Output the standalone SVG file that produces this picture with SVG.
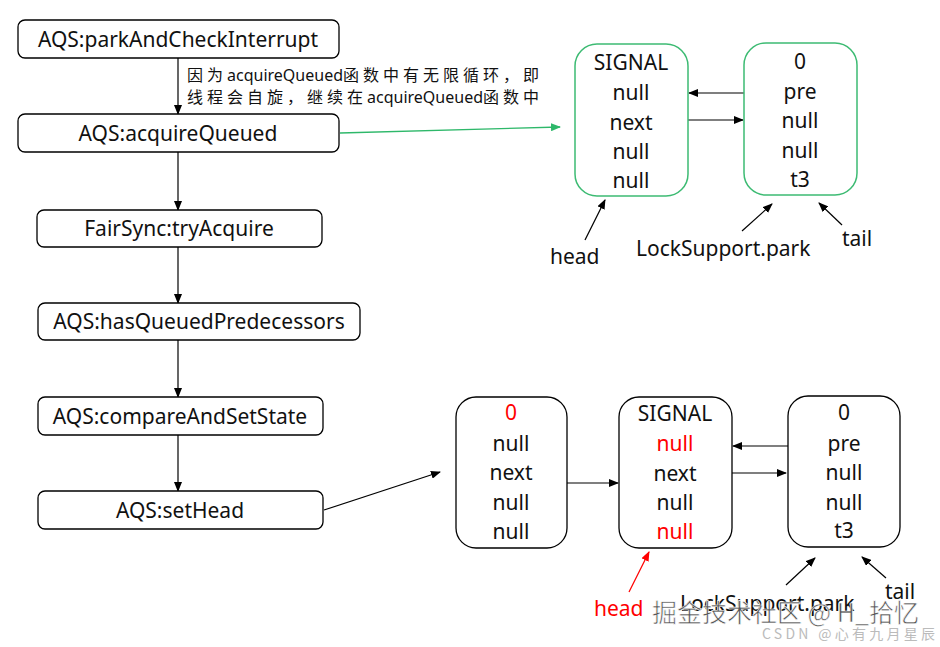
<svg xmlns="http://www.w3.org/2000/svg" width="940" height="647" viewBox="0 0 940 647">
<defs>
<marker id="ah" markerWidth="10" markerHeight="8" refX="9" refY="4" orient="auto" markerUnits="userSpaceOnUse"><path d="M0,0 L10,4 L0,8 z" fill="#000"/></marker>
<marker id="ahg" markerWidth="10" markerHeight="8" refX="9" refY="4" orient="auto" markerUnits="userSpaceOnUse"><path d="M0,0 L10,4 L0,8 z" fill="#2eb86a"/></marker>
<marker id="ahr" markerWidth="10" markerHeight="8" refX="9" refY="4" orient="auto" markerUnits="userSpaceOnUse"><path d="M0,0 L10,4 L0,8 z" fill="#f00"/></marker>
</defs>
<style>
.box{fill:#fff;stroke:#000;stroke-width:1.3}
.gbox{fill:#fff;stroke:#3dbb73;stroke-width:1.5}
.t{font-family:"Noto Sans","Open Sans","DejaVu Sans",sans-serif;font-size:21px;fill:#111;text-anchor:middle;dominant-baseline:central}
.lbl{font-family:"Noto Sans","Open Sans","DejaVu Sans",sans-serif;font-size:21px;fill:#111;dominant-baseline:central}
.red{fill:#f00}
.cn{font-family:"Noto Sans","Noto Sans CJK SC",sans-serif;font-size:16px;fill:#111}
.w{letter-spacing:4px}
.ln{stroke:#000;stroke-width:1.2;fill:none}
</style>
<rect width="940" height="647" fill="#fff"/>
<g id="connectors">
<line class="ln" x1="178" y1="58" x2="178" y2="114" marker-end="url(#ah)"/>
<line class="ln" x1="178" y1="152" x2="178" y2="210" marker-end="url(#ah)"/>
<line class="ln" x1="178" y1="247" x2="178" y2="303" marker-end="url(#ah)"/>
<line class="ln" x1="178" y1="340" x2="178" y2="397" marker-end="url(#ah)"/>
<line class="ln" x1="178" y1="435" x2="178" y2="491" marker-end="url(#ah)"/>
<line x1="340" y1="133" x2="560" y2="127" stroke="#2eb86a" stroke-width="1.3" marker-end="url(#ahg)"/>
<line class="ln" x1="744" y1="93" x2="689" y2="93" marker-end="url(#ah)"/>
<line class="ln" x1="688" y1="120" x2="743" y2="120" marker-end="url(#ah)"/>
<line class="ln" x1="585" y1="240" x2="605" y2="200" marker-end="url(#ah)"/>
<line class="ln" x1="742" y1="231" x2="772" y2="204" marker-end="url(#ah)"/>
<line class="ln" x1="842" y1="225" x2="819" y2="203" marker-end="url(#ah)"/>
<line class="ln" x1="324" y1="510" x2="440" y2="472" marker-end="url(#ah)"/>
<line class="ln" x1="566" y1="483" x2="618" y2="483" marker-end="url(#ah)"/>
<line class="ln" x1="788" y1="446" x2="733" y2="446" marker-end="url(#ah)"/>
<line class="ln" x1="732" y1="473" x2="786" y2="473" marker-end="url(#ah)"/>
<line x1="629" y1="592" x2="649" y2="552" stroke="#f00" stroke-width="1.2" marker-end="url(#ahr)"/>
<line class="ln" x1="786" y1="585" x2="815" y2="558" marker-end="url(#ah)"/>
<line class="ln" x1="886" y1="578" x2="862" y2="557" marker-end="url(#ah)"/>
</g>
<g id="n1"><rect class="box" x="18" y="20" width="321" height="38" rx="7"/><text class="t" x="178" y="39">AQS:parkAndCheckInterrupt</text></g>
<g id="note"><text class="cn" x="187" y="81"><tspan class="w">因为</tspan>acquireQueued<tspan class="w">函数中有无限循环，即</tspan></text><text class="cn" x="187" y="103"><tspan class="w">线程会自旋，继续在</tspan>acquireQueued<tspan class="w">函数中</tspan></text></g>
<g id="n2"><rect class="box" x="18" y="114" width="321" height="38" rx="7"/><text class="t" x="178" y="133">AQS:acquireQueued</text></g>
<g id="n3"><rect class="box" x="37" y="210" width="285" height="37" rx="7"/><text class="t" x="179" y="228">FairSync:tryAcquire</text></g>
<g id="n4"><rect class="box" x="38" y="303" width="322" height="37" rx="7"/><text class="t" x="199" y="321">AQS:hasQueuedPredecessors</text></g>
<g id="n5"><rect class="box" x="38" y="397" width="285" height="38" rx="7"/><text class="t" x="180" y="416">AQS:compareAndSetState</text></g>
<g id="n6"><rect class="box" x="38" y="491" width="285" height="38" rx="7"/><text class="t" x="180" y="510">AQS:setHead</text></g>
<g id="g1"><rect class="gbox" x="575" y="44" width="113" height="152" rx="22"/>
<text class="t" x="631" y="62">SIGNAL</text><text class="t" x="631" y="92">null</text><text class="t" x="631" y="122">next</text><text class="t" x="631" y="151">null</text><text class="t" x="631" y="180">null</text></g>
<g id="g2"><rect class="gbox" x="744" y="43" width="113" height="152" rx="22"/>
<text class="t" x="800" y="61">0</text><text class="t" x="800" y="91">pre</text><text class="t" x="800" y="120">null</text><text class="t" x="800" y="150">null</text><text class="t" x="800" y="179">t3</text></g>
<g id="lt1"><text class="lbl" x="550" y="256">head</text></g>
<g id="lt2"><text class="lbl" x="636" y="248">LockSupport.park</text></g>
<g id="lt3"><text class="lbl" x="842" y="238">tail</text></g>
<g id="b1"><rect class="box" x="456" y="397" width="111" height="151" rx="20"/>
<text class="t red" x="511" y="412">0</text><text class="t" x="511" y="443">null</text><text class="t" x="511" y="472">next</text><text class="t" x="511" y="502">null</text><text class="t" x="511" y="531">null</text></g>
<g id="b2"><rect class="box" x="619" y="397" width="113" height="151" rx="20"/>
<text class="t" x="675" y="413">SIGNAL</text><text class="t red" x="675" y="443">null</text><text class="t" x="675" y="473">next</text><text class="t" x="675" y="502">null</text><text class="t red" x="675" y="531">null</text></g>
<g id="b3"><rect class="box" x="788" y="396" width="112" height="151" rx="20"/>
<text class="t" x="844" y="412">0</text><text class="t" x="844" y="443">pre</text><text class="t" x="844" y="472">null</text><text class="t" x="844" y="502">null</text><text class="t" x="844" y="530">t3</text></g>
<g id="lb1"><text class="lbl red" x="594" y="608">head</text></g>
<g id="lb2"><text class="lbl" x="680" y="603">LockSupport.park</text></g>
<g id="lb3"><text class="lbl" x="885" y="591">tail</text></g>
<g id="watermark">
<text x="652" y="622" font-family="Noto Sans CJK SC,sans-serif" font-size="25" fill="#555" stroke="#fff" stroke-width="0.6">掘金技术社区 @ H_拾忆</text>
<text x="762" y="639" font-family="Noto Sans CJK SC,sans-serif" font-size="14" fill="#bbb" textLength="173" lengthAdjust="spacing">CSDN @心有九月星辰</text>
</g>
</svg>
